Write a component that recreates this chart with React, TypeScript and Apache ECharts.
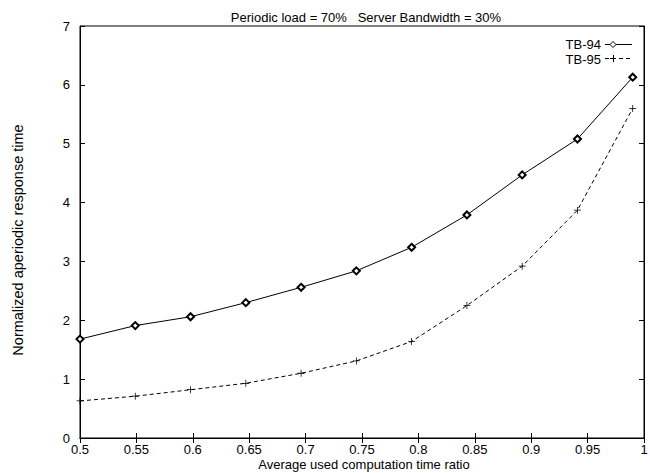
import React, { useEffect, useRef } from "react";
import * as echarts from "echarts";

const xValues = [0.5, 0.549, 0.598, 0.647, 0.696, 0.745, 0.794, 0.843, 0.892, 0.941, 0.99];
const tb94 = [1.68, 1.91, 2.06, 2.3, 2.56, 2.84, 3.24, 3.79, 4.47, 5.08, 6.13];
const tb95 = [0.63, 0.71, 0.82, 0.93, 1.1, 1.31, 1.64, 2.25, 2.92, 3.87, 5.6];
const seriesNames = ["TB-94", "TB-95"];
const titleText = "Periodic load = 70%   Server Bandwidth = 30%";
const xName = "Average used computation time ratio";
const yName = "Normalized aperiodic response time";

const FONT = "Liberation Sans, Arial, sans-serif";

export default function App() {
  const ref = useRef<HTMLDivElement>(null);
  useEffect(() => {
    const chart = echarts.init(ref.current!, null, { renderer: "svg" });
    const plus = "path://M0,4.45H10V5.55H0Z M4.45,0H5.55V10H4.45Z";
    const legendX = 601;
    const lineX1 = 605;
    const lineX2 = 632;
    const symX = 613;
    const textY = [44, 59];
    const legY = [44.5, 58];
    chart.setOption({
      animation: false,
      backgroundColor: "#fff",
      title: {
        text: titleText,
        left: 361,
        textAlign: "center",
        top: 6,
        textStyle: { fontFamily: FONT, fontSize: 13, fontWeight: "normal", color: "#000" },
      },
      grid: {
        left: 80,
        right: 6,
        top: 26,
        bottom: 35,
        containLabel: false,
        outerBoundsMode: "none",
        show: true,
        borderColor: "#000",
        borderWidth: 1,
      },
      graphic: [
        {
          type: "text",
          x: 18,
          y: 240,
          rotation: Math.PI / 2,
          style: {
            text: yName,
            fontFamily: FONT,
            fontSize: 14.5,
            fill: "#000",
            textAlign: "center",
            textVerticalAlign: "middle",
          },
        },
        {
          type: "text",
          x: 364,
          y: 464,
          style: {
            text: xName,
            fontFamily: FONT,
            fontSize: 13,
            fill: "#000",
            textAlign: "center",
            textVerticalAlign: "middle",
          },
        },
        {
          type: "text",
          x: legendX,
          y: textY[0],
          style: {
            text: seriesNames[0],
            fontFamily: FONT,
            fontSize: 13,
            fill: "#000",
            textAlign: "right",
            textVerticalAlign: "middle",
          },
        },
        {
          type: "text",
          x: legendX,
          y: textY[1],
          style: {
            text: seriesNames[1],
            fontFamily: FONT,
            fontSize: 13,
            fill: "#000",
            textAlign: "right",
            textVerticalAlign: "middle",
          },
        },
        {
          type: "line",
          shape: { x1: lineX1, y1: legY[0], x2: lineX2, y2: legY[0] },
          style: { stroke: "#000", lineWidth: 1 },
        },
        {
          type: "polygon",
          shape: {
            points: [
              [symX, legY[0] - 3],
              [symX + 3, legY[0]],
              [symX, legY[0] + 3],
              [symX - 3, legY[0]],
            ],
          },
          style: { stroke: "#000", fill: "#fff", lineWidth: 1 },
        },
        {
          type: "line",
          shape: { x1: lineX1, y1: legY[1] + 0.5, x2: lineX2, y2: legY[1] + 0.5 },
          style: { stroke: "#000", lineWidth: 1, lineDash: [4, 3] },
        },
        {
          type: "line",
          shape: { x1: symX - 3, y1: legY[1] + 0.5, x2: symX + 3, y2: legY[1] + 0.5 },
          style: { stroke: "#000", lineWidth: 1 },
        },
        {
          type: "line",
          shape: { x1: symX + 0.5, y1: legY[1] - 3, x2: symX + 0.5, y2: legY[1] + 4 },
          style: { stroke: "#000", lineWidth: 1 },
        },
      ],
      xAxis: [
        {
          type: "value",
          min: 0.5,
          max: 1,
          interval: 0.05,
          axisLine: { show: true, lineStyle: { color: "#000", width: 1 } },
          axisTick: { show: true, inside: true, length: 5, lineStyle: { color: "#000" } },
          axisLabel: {
            fontFamily: FONT,
            fontSize: 13,
            color: "#000",
            margin: 5,
            formatter: (v: number) => String(parseFloat(v.toFixed(2))),
          },
          splitLine: { show: false },
        },
        {
          type: "value",
          position: "top",
          min: 0.5,
          max: 1,
          interval: 0.05,
          axisLine: { show: true, lineStyle: { color: "#000", width: 1 } },
          axisTick: { show: true, inside: true, length: 5, lineStyle: { color: "#000" } },
          axisLabel: { show: false },
          splitLine: { show: false },
        },
      ],
      yAxis: [
        {
          type: "value",
          min: 0,
          max: 7,
          interval: 1,
          axisLine: { show: true, lineStyle: { color: "#000", width: 1 } },
          axisTick: { show: true, inside: true, length: 5, lineStyle: { color: "#000" } },
          axisLabel: { fontFamily: FONT, fontSize: 13, color: "#000", margin: 10 },
          splitLine: { show: false },
        },
        {
          type: "value",
          position: "right",
          min: 0,
          max: 7,
          interval: 1,
          axisLine: { show: true, lineStyle: { color: "#000", width: 1 } },
          axisTick: { show: true, inside: true, length: 5, lineStyle: { color: "#000" } },
          axisLabel: { show: false },
          splitLine: { show: false },
        },
      ],
      series: [
        {
          name: seriesNames[0],
          type: "line",
          data: xValues.map((x, i) => [x, tb94[i]]),
          symbol: "emptyDiamond",
          symbolSize: 7,
          lineStyle: { color: "#000", width: 1 },
          itemStyle: { color: "#000", borderColor: "#000", borderWidth: 1 },
        },
        {
          name: seriesNames[1],
          type: "line",
          data: xValues.map((x, i) => [x, tb95[i]]),
          symbol: plus,
          symbolSize: 7,
          lineStyle: { color: "#000", width: 1, type: [4, 3] },
          itemStyle: { color: "#000" },
        },
      ],
    });
    return () => chart.dispose();
  }, []);
  return (
    <div
      ref={ref}
      style={{ position: "fixed", left: 0, top: 0, width: 650, height: 473 }}
    />
  );
}
